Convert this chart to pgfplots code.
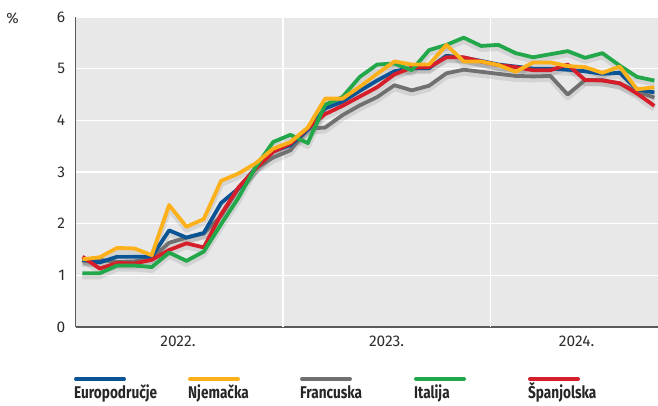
\documentclass[border=0pt]{standalone}
\usepackage{fontspec}
\setmainfont{Fira Sans}
\usepackage{pgfplots}
\usepackage{pgfplotstable}
\pgfplotsset{compat=1.18}
\definecolor{cEU}{RGB}{10,84,150}
\definecolor{cDE}{RGB}{252,176,26}
\definecolor{cFR}{RGB}{112,112,112}
\definecolor{cIT}{RGB}{34,168,74}
\definecolor{cES}{RGB}{214,30,42}
\definecolor{bggray}{RGB}{232,232,232}
\definecolor{axgray}{RGB}{90,90,90}
\definecolor{txt}{RGB}{45,45,45}

\pgfplotstableread{
x eu de fr it es
0 1.30 1.31 1.28 1.04 1.36
1 1.25 1.35 1.30 1.04 1.13
2 1.36 1.53 1.26 1.19 1.24
3 1.36 1.52 1.27 1.19 1.23
4 1.36 1.39 1.33 1.16 1.30
5 1.87 2.36 1.63 1.44 1.49
6 1.73 1.94 1.73 1.28 1.62
7 1.82 2.09 1.81 1.46 1.54
8 2.40 2.83 2.15 1.99 2.18
9 2.68 2.97 2.68 2.50 2.70
10 3.08 3.17 3.07 3.10 3.07
11 3.40 3.45 3.28 3.58 3.39
12 3.52 3.58 3.42 3.72 3.55
13 3.82 3.86 3.84 3.56 3.85
14 4.23 4.42 3.86 4.30 4.12
15 4.36 4.42 4.10 4.45 4.28
16 4.57 4.65 4.29 4.84 4.46
17 4.77 4.90 4.45 5.08 4.64
18 4.95 5.14 4.68 5.10 4.89
19 5.01 5.08 4.58 4.97 5.02
20 5.01 5.08 4.67 5.36 5.03
21 5.25 5.46 4.91 5.46 5.22
22 5.21 5.14 4.98 5.60 5.22
23 5.15 5.14 4.94 5.44 5.14
24 5.08 5.07 4.90 5.46 5.07
25 5.04 4.94 4.86 5.30 5.03
26 5.00 5.12 4.85 5.22 4.97
27 5.00 5.12 4.86 5.28 4.97
28 4.98 5.05 4.50 5.34 5.08
29 4.95 5.03 4.78 5.21 4.78
30 4.90 4.92 4.78 5.30 4.77
31 4.92 5.04 4.71 5.06 4.72
32 4.60 4.60 4.56 4.84 4.52
33 4.54 4.64 4.44 4.77 4.28
}\data

\begin{document}
\begin{tikzpicture}[x=1pt,y=1pt]
\path[use as bounding box] (0,0) rectangle (658,405);
\begin{axis}[
  at={(75.7pt,78pt)}, anchor=south west,
  width=582.3pt, height=310pt, scale only axis,
  xmin=-0.39, xmax=33.21, ymin=0, ymax=6,
  axis background/.style={fill=bggray},
  axis x line*=bottom, axis y line*=left,
  axis line style={-, draw=axgray, line width=1.3pt},
  major tick length=0pt,
  ytick={0,1,2,3,4,5,6},
  ymajorgrids,
  grid style={white, line width=1.2pt},
  xtick={5.51,17.55,28.51},
  xticklabels={2022.,2023.,2024.},
  extra x ticks={11.57,23.54},
  extra x tick labels={},
  extra x tick style={grid=major, major tick length=0pt},
  tick label style={font=\fontsize{15.5}{18}\selectfont, text=txt},
  yticklabel style={xshift=-7pt},
  xticklabel style={yshift=-5pt},
  /pgf/number format/assume math mode=true,
  shadow/.style={black, opacity=0.09, line width=6pt, yshift=-3pt, line join=round},
  ser/.style={line width=3.8pt, line join=round},
]
\addplot[shadow] table[x=x,y=fr]{\data};
\addplot[shadow] table[x=x,y=eu]{\data};
\addplot[shadow] table[x=x,y=es]{\data};
\addplot[shadow] table[x=x,y=it]{\data};
\addplot[shadow] table[x=x,y=de]{\data};
\addplot[ser, cFR] table[x=x,y=fr]{\data};
\addplot[ser, cEU] table[x=x,y=eu]{\data};
\addplot[ser, cES] table[x=x,y=es]{\data};
\addplot[ser, cIT] table[x=x,y=it]{\data};
\addplot[ser, cDE] table[x=x,y=de]{\data};
\end{axis}
\node[text=txt, font=\fontsize{15}{17}\selectfont] at (12.5,387) {\%};
\foreach \xx/\c/\t in {74/cEU/Europodručje, 188/cDE/Njemačka, 300/cFR/Francuska, 414/cIT/Italija, 528/cES/Španjolska}{
  \draw[\c, line width=4pt, line cap=round] (\xx+2,26) -- (\xx+50,26);
  \node[anchor=base west, inner sep=0pt, text=black!85, font=\fontsize{17}{19}\bfseries] at (\xx,7) {\scalebox{0.8}[1]{\t}};
}
\end{tikzpicture}
\end{document}
